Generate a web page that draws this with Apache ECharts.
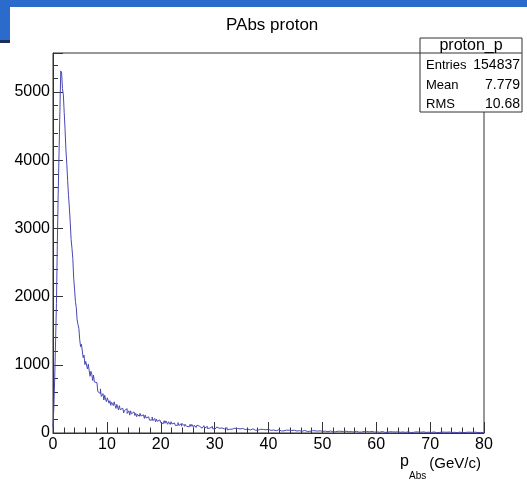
<!DOCTYPE html>
<html>
<head>
<meta charset="utf-8">
<title>PAbs proton</title>
<script src="https://cdn.jsdelivr.net/npm/echarts@6/dist/echarts.min.js"></script>
<style>
    html, body { margin: 0; padding: 0; background: #fff; }
    #main { width: 527px; height: 482px; }
</style>
</head>
<body>
<div id="main"></div>
<script>
// 直方图范围 (GeV/c)
var xMin = 0,
    xMax = 80,
    binWidth = 0.16;
// 每个 bin 的计数, 500 bins
var counts = [
    90, 380, 820, 1350, 1900, 2750, 3500, 4100, 4720, 5310,
    5280, 5050, 4960, 4700, 4450, 4150, 3950, 3700, 3480, 3300,
    3090, 2840, 2710, 2560, 2270, 2110, 1930, 1840, 1660, 1590,
    1535, 1367, 1264, 1304, 1287, 1105, 1142, 1003, 1051, 1060,
    939, 1008, 911, 832, 905, 862, 770, 849, 748, 758,
    738, 736, 607, 634, 578, 647, 536, 544, 578, 484,
    553, 490, 460, 516, 526, 437, 473, 406, 450, 471,
    403, 457, 404, 361, 419, 397, 339, 401, 343, 361,
    362, 372, 296, 331, 303, 357, 286, 296, 325, 262,
    325, 281, 263, 310, 321, 257, 288, 239, 275, 294,
    244, 288, 249, 220, 267, 254, 214, 263, 220, 235,
    237, 245, 187, 214, 193, 235, 181, 190, 213, 163,
    204, 171, 156, 191, 200, 151, 175, 137, 165, 180,
    143, 178, 149, 128, 165, 156, 125, 165, 132, 144,
    147, 155, 109, 133, 117, 153, 110, 118, 138, 100,
    135, 108, 98, 129, 137, 98, 119, 90, 113, 127,
    96, 126, 102, 83, 115, 108, 81, 115, 87, 99,
    100, 108, 70, 89, 77, 107, 72, 80, 97, 65,
    94, 72, 64, 89, 96, 64, 82, 58, 78, 88,
    63, 88, 69, 54, 80, 74, 55, 81, 60, 69,
    72, 78, 46, 64, 54, 80, 50, 57, 72, 46,
    70, 52, 45, 67, 72, 46, 60, 41, 57, 67,
    45, 68, 51, 39, 62, 57, 39, 64, 45, 53,
    55, 61, 34, 49, 40, 62, 38, 43, 56, 33,
    55, 39, 32, 52, 58, 33, 47, 28, 44, 53,
    34, 53, 38, 28, 48, 44, 29, 50, 33, 41,
    43, 48, 24, 38, 30, 50, 28, 32, 44, 24,
    42, 29, 24, 40, 45, 25, 36, 20, 34, 41,
    26, 41, 29, 21, 37, 34, 21, 40, 25, 31,
    34, 38, 17, 29, 22, 39, 20, 25, 35, 16,
    34, 21, 17, 32, 35, 17, 28, 15, 27, 32,
    18, 33, 23, 15, 29, 27, 15, 31, 19, 24,
    26, 30, 12, 23, 16, 31, 15, 19, 28, 13,
    26, 16, 12, 25, 29, 14, 22, 10, 20, 26,
    14, 27, 18, 10, 24, 21, 11, 26, 15, 19,
    21, 24, 9, 18, 13, 26, 11, 14, 22, 9,
    22, 12, 9, 21, 24, 9, 17, 7, 16, 22,
    10, 23, 14, 7, 20, 17, 7, 21, 11, 16,
    17, 21, 6, 15, 10, 22, 8, 11, 19, 6,
    18, 10, 6, 17, 21, 8, 14, 4, 13, 18,
    8, 18, 11, 6, 16, 15, 7, 18, 9, 13,
    14, 17, 4, 12, 7, 18, 6, 9, 16, 5,
    16, 8, 5, 14, 17, 5, 12, 3, 11, 16,
    6, 16, 9, 4, 14, 12, 5, 16, 8, 11,
    13, 15, 4, 10, 6, 16, 5, 8, 13, 4,
    13, 6, 4, 13, 15, 5, 11, 3, 10, 14,
    5, 15, 8, 3, 13, 10, 3, 13, 6, 9,
    10, 13, 2, 8, 5, 14, 4, 7, 12, 3,
    12, 6, 3, 11, 14, 4, 10, 2, 9, 12,
    5, 13, 7, 3, 11, 9, 3, 12, 5, 8
];
// 统计框
var statNames = ["Entries", "Mean", "RMS"];
var statValues = ["154837", "7.779", "10.68"];
var yMax = 5573;

var font = "'Liberation Sans', Arial, Helvetica, sans-serif";
var lineColor = "#4848b4";

// 直方图的阶梯数据
function stepData() {
    var arr = [];
    for (var i = 0; i < counts.length; i++) {
        arr.push([xMin + i * binWidth, counts[i]]);
    }
    arr.push([xMax, counts[counts.length - 1]]);
    return arr;
}

var gridL = 53, gridT = 53, gridW = 431, gridH = 380;

var statsGraphic = [{
    type: "rect",
    shape: { x: 420, y: 38, width: 102, height: 74 },
    style: { fill: "#fff", stroke: "#333", lineWidth: 1 },
    z: 100
}, {
    type: "line",
    shape: { x1: 420, y1: 53, x2: 522, y2: 53 },
    style: { stroke: "#333", lineWidth: 1 },
    z: 101
}, {
    type: "text",
    x: 471, y: 45.5,
    style: { text: "proton_p", font: "16px " + font, fill: "#000", textAlign: "center", textVerticalAlign: "middle" },
    z: 101
}];
for (var k = 0; k < statNames.length; k++) {
    var ty = [65.5, 85.5, 104.5][k];
    statsGraphic.push({
        type: "text", x: 426, y: ty,
        style: { text: statNames[k], font: "13px " + font, fill: "#000", textAlign: "left", textVerticalAlign: "middle" },
        z: 101
    });
    statsGraphic.push({
        type: "text", x: 520, y: ty,
        style: { text: statValues[k], font: "14px " + font, fill: "#000", textAlign: "right", textVerticalAlign: "middle" },
        z: 101
    });
}

var option = {
    animation: false,
    backgroundColor: "#fff",
    title: {
        text: "PAbs proton",
        left: 221,
        top: 12,
        textStyle: { fontFamily: font, fontSize: 17, fontWeight: "normal", color: "#000" }
    },
    grid: {
        left: gridL, top: gridT, width: gridW, height: gridH,
        show: true, borderColor: "#333", borderWidth: 1, backgroundColor: "#fff"
    },
    xAxis: {
        type: "value",
        min: xMin,
        max: xMax,
        interval: 10,
        axisLine: { show: true, lineStyle: { color: "#333", width: 1 } },
        axisTick: { show: true, inside: true, length: 11, lineStyle: { color: "#333" } },
        minorTick: { show: true, splitNumber: 5, length: 5.5, lineStyle: { color: "#333" } },
        axisLabel: { fontFamily: font, fontSize: 16, color: "#000", margin: 4 },
        splitLine: { show: false }
    },
    yAxis: [{
        type: "value",
        min: 0,
        max: yMax,
        interval: 1000,
        axisLine: { show: true, lineStyle: { color: "#333", width: 1 } },
        axisTick: { show: true, inside: true, length: 10, lineStyle: { color: "#333" } },
        axisLabel: {
            fontFamily: font, fontSize: 16, color: "#000", margin: 3,
            formatter: function(v) { return v % 1000 === 0 ? String(v) : ""; }
        },
        splitLine: { show: false }
    }, {
        type: "value",
        min: 0,
        max: yMax,
        interval: 200,
        position: "left",
        axisLine: { show: false },
        axisTick: { show: true, inside: true, length: 5, lineStyle: { color: "#333" } },
        axisLabel: { show: false },
        splitLine: { show: false }
    }],
    graphic: [
        // 截图上方的蓝色窗口边
        { type: "rect", shape: { x: 0, y: 0, width: 527, height: 7 }, style: { fill: "#2a6bcc" }, z: 50 },
        { type: "rect", shape: { x: 0, y: 0, width: 10, height: 41 }, style: { fill: "#2a6bcc" }, z: 50 },
        { type: "rect", shape: { x: 0, y: 40, width: 10, height: 3 }, style: { fill: "#1b2f5a" }, z: 50 },
        // x 轴标题 p_Abs (GeV/c)
        { type: "text", x: 400, y: 462, style: { text: "p", font: "16px " + font, fill: "#000", textVerticalAlign: "middle" }, z: 60 },
        { type: "text", x: 409, y: 476, style: { text: "Abs", font: "10px " + font, fill: "#000", textVerticalAlign: "middle" }, z: 60 },
        { type: "text", x: 481, y: 463.5, style: { text: "(GeV/c)", font: "15px " + font, fill: "#000", textAlign: "right", textVerticalAlign: "middle" }, z: 60 }
    ].concat(statsGraphic),
    series: [{
        name: "proton_p",
        type: "line",
        step: "end",
        symbol: "none",
        yAxisIndex: 0,
        lineStyle: { color: lineColor, width: 1 },
        data: stepData()
    }]
};

var chart = echarts.init(document.getElementById("main"), null, { renderer: "canvas" });
chart.setOption(option);
</script>
</body>
</html>
